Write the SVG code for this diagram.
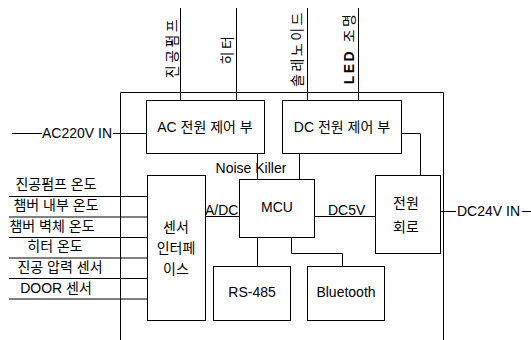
<svg xmlns="http://www.w3.org/2000/svg" width="531" height="340" viewBox="0 0 531 340">
<defs>
<style>
.bx{fill:#fff;stroke:#000;stroke-width:1}
.ln{fill:none;stroke:#000;stroke-width:1}
text{font-family:"Liberation Sans","Noto Sans CJK KR",Arial,sans-serif;font-size:14px;fill:#000}
.m{text-anchor:middle}
.v{text-anchor:middle;dominant-baseline:central;letter-spacing:2.5px}
</style>
</defs>
<rect width="531" height="340" fill="#fff"/>
<g id="frame">
<path class="ln" d="M120.5,340 V92.5 H443.5 V340"/>
</g>
<g id="connectors">
<path class="ln" d="M180.5,8 V100"/>
<path class="ln" d="M236.5,8 V100"/>
<path class="ln" d="M307.5,8 V100"/>
<path class="ln" d="M358.5,8 V100"/>
<path class="ln" d="M12,133.5 H42 M113,133.5 H146"/>
<path class="ln" d="M257.5,153 V179"/>
<path class="ln" d="M299.5,153 V179"/>
<path class="ln" d="M401,133.5 H420.5 V175"/>
<path class="ln" d="M205,216.5 H239"/>
<path class="ln" d="M314,216.5 H375"/>
<path class="ln" d="M440,211.5 H456 M522,211.5 H531"/>
<path class="ln" d="M257.5,237 V266"/>
<path class="ln" d="M291.5,237 V253.5 H342.5 V266"/>
<path class="ln" d="M9,196.5 H147 M9,217 H147 M9,237.5 H147 M9,258 H147 M9,278.5 H147 M9,299 H147"/>
</g>
<g id="top-labels">
<text class="v" transform="translate(172,47.5) rotate(-90)">진공펌프</text>
<text class="v" transform="translate(227,49) rotate(-90)">히터</text>
<text class="v" transform="translate(297,48.5) rotate(-90)">솔레노이드</text>
<text class="v" transform="translate(349,48) rotate(-90)"><tspan font-weight="bold">LED</tspan> 조명</text>
</g>
<g id="ac-in"><text x="42" y="138">AC220V IN</text></g>
<g id="dc-in"><text x="457" y="216">DC24V IN</text></g>
<g id="ac-ctrl">
<rect class="bx" x="146.5" y="100.5" width="118" height="53"/>
<text class="m" x="205" y="132">AC 전원 제어 부</text>
</g>
<g id="dc-ctrl">
<rect class="bx" x="282.5" y="100.5" width="119" height="53"/>
<text class="m" x="342" y="132">DC 전원 제어 부</text>
</g>
<g id="noise-killer"><text class="m" x="251" y="173">Noise Killer</text></g>
<g id="sensor-if">
<rect class="bx" x="147.5" y="175.5" width="58" height="145"/>
<text class="m" x="176" y="232">센서</text>
<text class="m" x="176" y="253">인터페</text>
<text class="m" x="176" y="274">이스</text>
</g>
<g id="mcu">
<rect class="bx" x="239.5" y="179.5" width="75" height="58"/>
<text class="m" x="277" y="212">MCU</text>
</g>
<g id="adc-label"><text x="205" y="215">A/DC</text></g>
<g id="dc5v-label"><text x="328" y="215">DC5V</text></g>
<g id="power">
<rect class="bx" x="375.5" y="175.5" width="65" height="78"/>
<text class="m" x="406" y="208">전원</text>
<text class="m" x="406" y="232">회로</text>
</g>
<g id="rs485">
<rect class="bx" x="213.5" y="266.5" width="77" height="54"/>
<text class="m" x="252" y="297">RS-485</text>
</g>
<g id="bluetooth">
<rect class="bx" x="307.5" y="266.5" width="77" height="54"/>
<text class="m" x="346" y="297">Bluetooth</text>
</g>
<g id="sensors">
<text class="m" x="56" y="189">진공펌프 온도</text>
<text class="m" x="56" y="210">챔버 내부 온도</text>
<text class="m" x="52" y="231">챔버 벽체 온도</text>
<text class="m" x="55" y="251">히터 온도</text>
<text class="m" x="60" y="272">진공 압력 센서</text>
<text class="m" x="56" y="293">DOOR 센서</text>
</g>
</svg>
